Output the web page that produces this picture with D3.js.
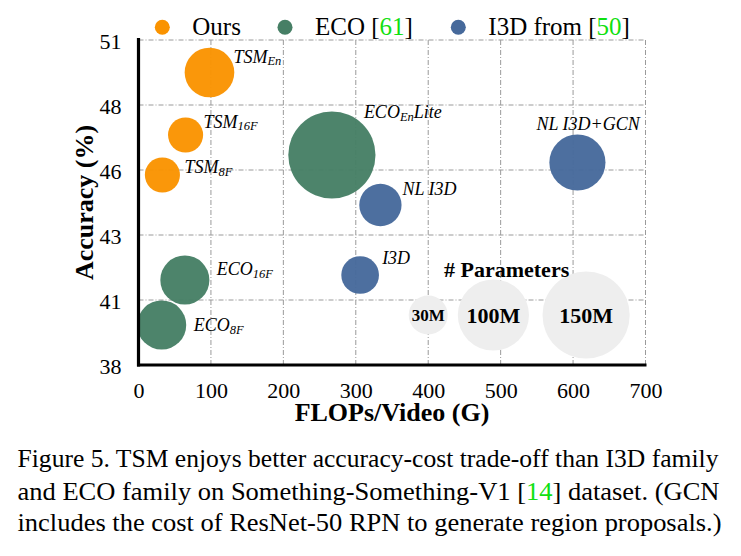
<!DOCTYPE html>
<html>
<head>
<meta charset="utf-8">
<script src="https://cdn.jsdelivr.net/npm/d3@7"></script>
<style>
  body { margin: 0; background: #fff; }
  svg { display: block; font-family: "Liberation Serif", "Times New Roman", serif; }
</style>
</head>
<body>
<div id="chart"></div>
<script>
"use strict";

// == data ==
var models   = ["TSM_{8F}", "TSM_{16F}", "TSM_{En}", "ECO_{8F}", "ECO_{16F}", "ECO_{En}Lite", "I3D", "NL I3D", "NL I3D+GCN"];
var family   = ["Ours", "Ours", "Ours", "ECO", "ECO", "ECO", "I3D", "I3D", "I3D"];
var flops    = [33, 65, 98, 32, 64, 267, 306, 334, 606];          // G
var accuracy = [45.6, 47.2, 49.7, 39.6, 41.4, 46.4, 41.6, 44.4, 46.1]; // %
var params   = [24.3, 24.3, 48.6, 47.5, 47.5, 150, 28, 35.3, 62.2];   // M

var xTicks = [0, 100, 200, 300, 400, 500, 600, 700];
var yTicks = [38, 40.6, 43.2, 45.8, 48.4, 51];

var sizeLegendValues = [30, 100, 150];
var sizeLegendLabels = ["30M", "100M", "150M"];

var familyNames = ["Ours", "ECO", "I3D"];

var captionLines = [
  ["Figure 5. TSM enjoys better accuracy-cost trade-off than I3D family"],
  ["and ECO family on Something-Something-V1 [", "14", "] dataset. (GCN"],
  ["includes the cost of ResNet-50 RPN to generate region proposals.)"]
];

// == layout (not data) ==
var W = 741, H = 556;
var plotL = 138.5, plotR = 645.5, plotT = 40, plotB = 365;
var colors = { Ours: "#fa9300", ECO: "#467f65", I3D: "#46699b" };
var refGreen = "#10e010";
// label offsets from bubble centre, px
var labelOffsets = [[22, -2], [18, -7.5], [24, -10], [32, 6], [32, -5], [32, -37], [22, -11], [22, -10.5], [-41, -33]];
// size legend bubble anchors in data units
var sizeLegendX = [400, 490, 618];
var sizeLegendY = 40;

var svg = d3.select("#chart").append("svg")
  .attr("width", W).attr("height", H);

var x = d3.scaleLinear().domain([0, 700]).range([plotL, plotR]);
var y = d3.scaleLinear().domain([38, 51]).range([plotB, plotT]);
var r = d3.scaleSqrt().domain([0, 150]).range([0, 43.6]);

// == gridlines ==
var grid = svg.append("g")
  .attr("stroke", "#9a9a9a")
  .attr("stroke-width", 1)
  .attr("stroke-dasharray", "5,2,1,2");

grid.selectAll(".vg").data(xTicks.slice(1)).enter().append("line")
  .attr("x1", function (d) { return x(d); }).attr("x2", function (d) { return x(d); })
  .attr("y1", plotT).attr("y2", plotB);

grid.selectAll(".hg").data(yTicks.slice(1)).enter().append("line")
  .attr("y1", function (d) { return y(d); }).attr("y2", function (d) { return y(d); })
  .attr("x1", plotL).attr("x2", plotR);

// == size legend ==
var sizeG = svg.append("g");
sizeG.selectAll("circle").data(sizeLegendValues).enter().append("circle")
  .attr("cx", function (d, i) { return x(sizeLegendX[i]); })
  .attr("cy", y(sizeLegendY))
  .attr("r", function (d) { return r(d); })
  .attr("fill", "#eeeeee");

sizeG.selectAll("text").data(sizeLegendLabels).enter().append("text")
  .attr("x", function (d, i) { return x(sizeLegendX[i]); })
  .attr("y", y(sizeLegendY))
  .attr("dy", "0.36em")
  .attr("text-anchor", "middle")
  .attr("font-weight", "bold")
  .attr("font-size", function (d, i) { return i === 0 ? 17 : 22; })
  .text(function (d) { return d; });

svg.append("text")
  .attr("x", 444).attr("y", 276.5)
  .attr("font-weight", "bold").attr("font-size", 22)
  .text("# Parameters");

// == bubbles ==
var idx = d3.range(models.length);
svg.append("g").selectAll("circle").data(idx).enter().append("circle")
  .attr("cx", function (i) { return x(flops[i]); })
  .attr("cy", function (i) { return y(accuracy[i]); })
  .attr("r", function (i) { return r(params[i]); })
  .attr("fill", function (i) { return colors[family[i]]; })
  .attr("fill-opacity", 0.96);

// == bubble labels (with subscripts) ==
var labels = svg.append("g").selectAll("text").data(idx).enter().append("text")
  .attr("x", function (i) { return x(flops[i]) + labelOffsets[i][0]; })
  .attr("y", function (i) { return y(accuracy[i]) + labelOffsets[i][1]; })
  .attr("font-style", "italic")
  .attr("font-size", 18);

labels.each(function (i) {
  var t = d3.select(this);
  var m = models[i].match(/^([^_]*)(?:_\{([^}]*)\})?(.*)$/);
  t.append("tspan").text(m[1]);
  if (m[2]) {
    t.append("tspan").attr("font-size", 12.5).attr("dy", 2.5).text(m[2]);
    if (m[3]) t.append("tspan").attr("dy", -2.5).text(m[3]);
  }
});

// == axes ==
var yAxis = d3.axisLeft(y).tickValues(yTicks).tickFormat(d3.format(".0f")).tickSize(0).tickPadding(17);
var xAxis = d3.axisBottom(x).tickValues(xTicks).tickFormat(d3.format("d")).tickSize(0);

var gy = svg.append("g").attr("transform", "translate(" + plotL + ",0)").call(yAxis);
gy.select(".domain").remove();
gy.selectAll("text")
  .attr("dy", "0.38em")
  .attr("font-family", "Liberation Serif").attr("font-size", 22).attr("fill", "#000");

var gx = svg.append("g").attr("transform", "translate(0," + plotB + ")").call(xAxis);
gx.select(".domain").remove();
gx.selectAll("text")
  .attr("y", 33).attr("dy", 0)
  .attr("font-family", "Liberation Serif").attr("font-size", 22).attr("fill", "#000");

// thick axis lines
svg.append("line")
  .attr("x1", plotL).attr("x2", plotL).attr("y1", plotT - 2).attr("y2", plotB + 1.5)
  .attr("stroke", "#000").attr("stroke-width", 3.2);
svg.append("line")
  .attr("x1", plotL - 1.5).attr("x2", plotR + 1).attr("y1", plotB).attr("y2", plotB)
  .attr("stroke", "#000").attr("stroke-width", 3.2);

// axis titles
svg.append("text")
  .attr("x", (plotL + plotR) / 2).attr("y", 421)
  .attr("text-anchor", "middle").attr("font-weight", "bold").attr("font-size", 26)
  .text("FLOPs/Video (G)");

svg.append("text")
  .attr("transform", "translate(93," + ((plotT + plotB) / 2) + ") rotate(-90)")
  .attr("text-anchor", "middle").attr("font-weight", "bold").attr("font-size", 26)
  .text("Accuracy (%)");

// == family legend ==
var legendX = [162.3, 285, 458.3];
var legendLabels = [["Ours"], ["ECO [", "61", "]"], ["I3D from [", "50", "]"]];
var leg = svg.append("g").selectAll("g").data(familyNames).enter().append("g")
  .attr("transform", function (d, i) { return "translate(" + legendX[i] + ",27.3)"; });
leg.append("circle").attr("r", 7.5).attr("fill", function (d) { return colors[d]; });
leg.append("text")
  .attr("x", 30).attr("y", 7.7).attr("font-size", 25)
  .each(function (d, i) {
    var t = d3.select(this);
    legendLabels[i].forEach(function (s, k) {
      t.append("tspan").attr("fill", k === 1 ? refGreen : "#000").text(s);
    });
  });

// == caption ==
var capY = [467.3, 499.6, 531];
var capEnd = [718.5, 719.5, 721.5];
svg.append("g").selectAll("text").data(captionLines).enter().append("text")
  .attr("x", 17.5)
  .attr("y", function (d, i) { return capY[i]; })
  .attr("font-size", 25.5)
  .attr("textLength", function (d, i) { return capEnd[i] - 17.5; })
  .attr("lengthAdjust", "spacingAndGlyphs")
  .each(function (d) {
    var t = d3.select(this);
    d.forEach(function (s, k) {
      t.append("tspan").attr("fill", k === 1 ? refGreen : "#000").text(s);
    });
  });
</script>
</body>
</html>
